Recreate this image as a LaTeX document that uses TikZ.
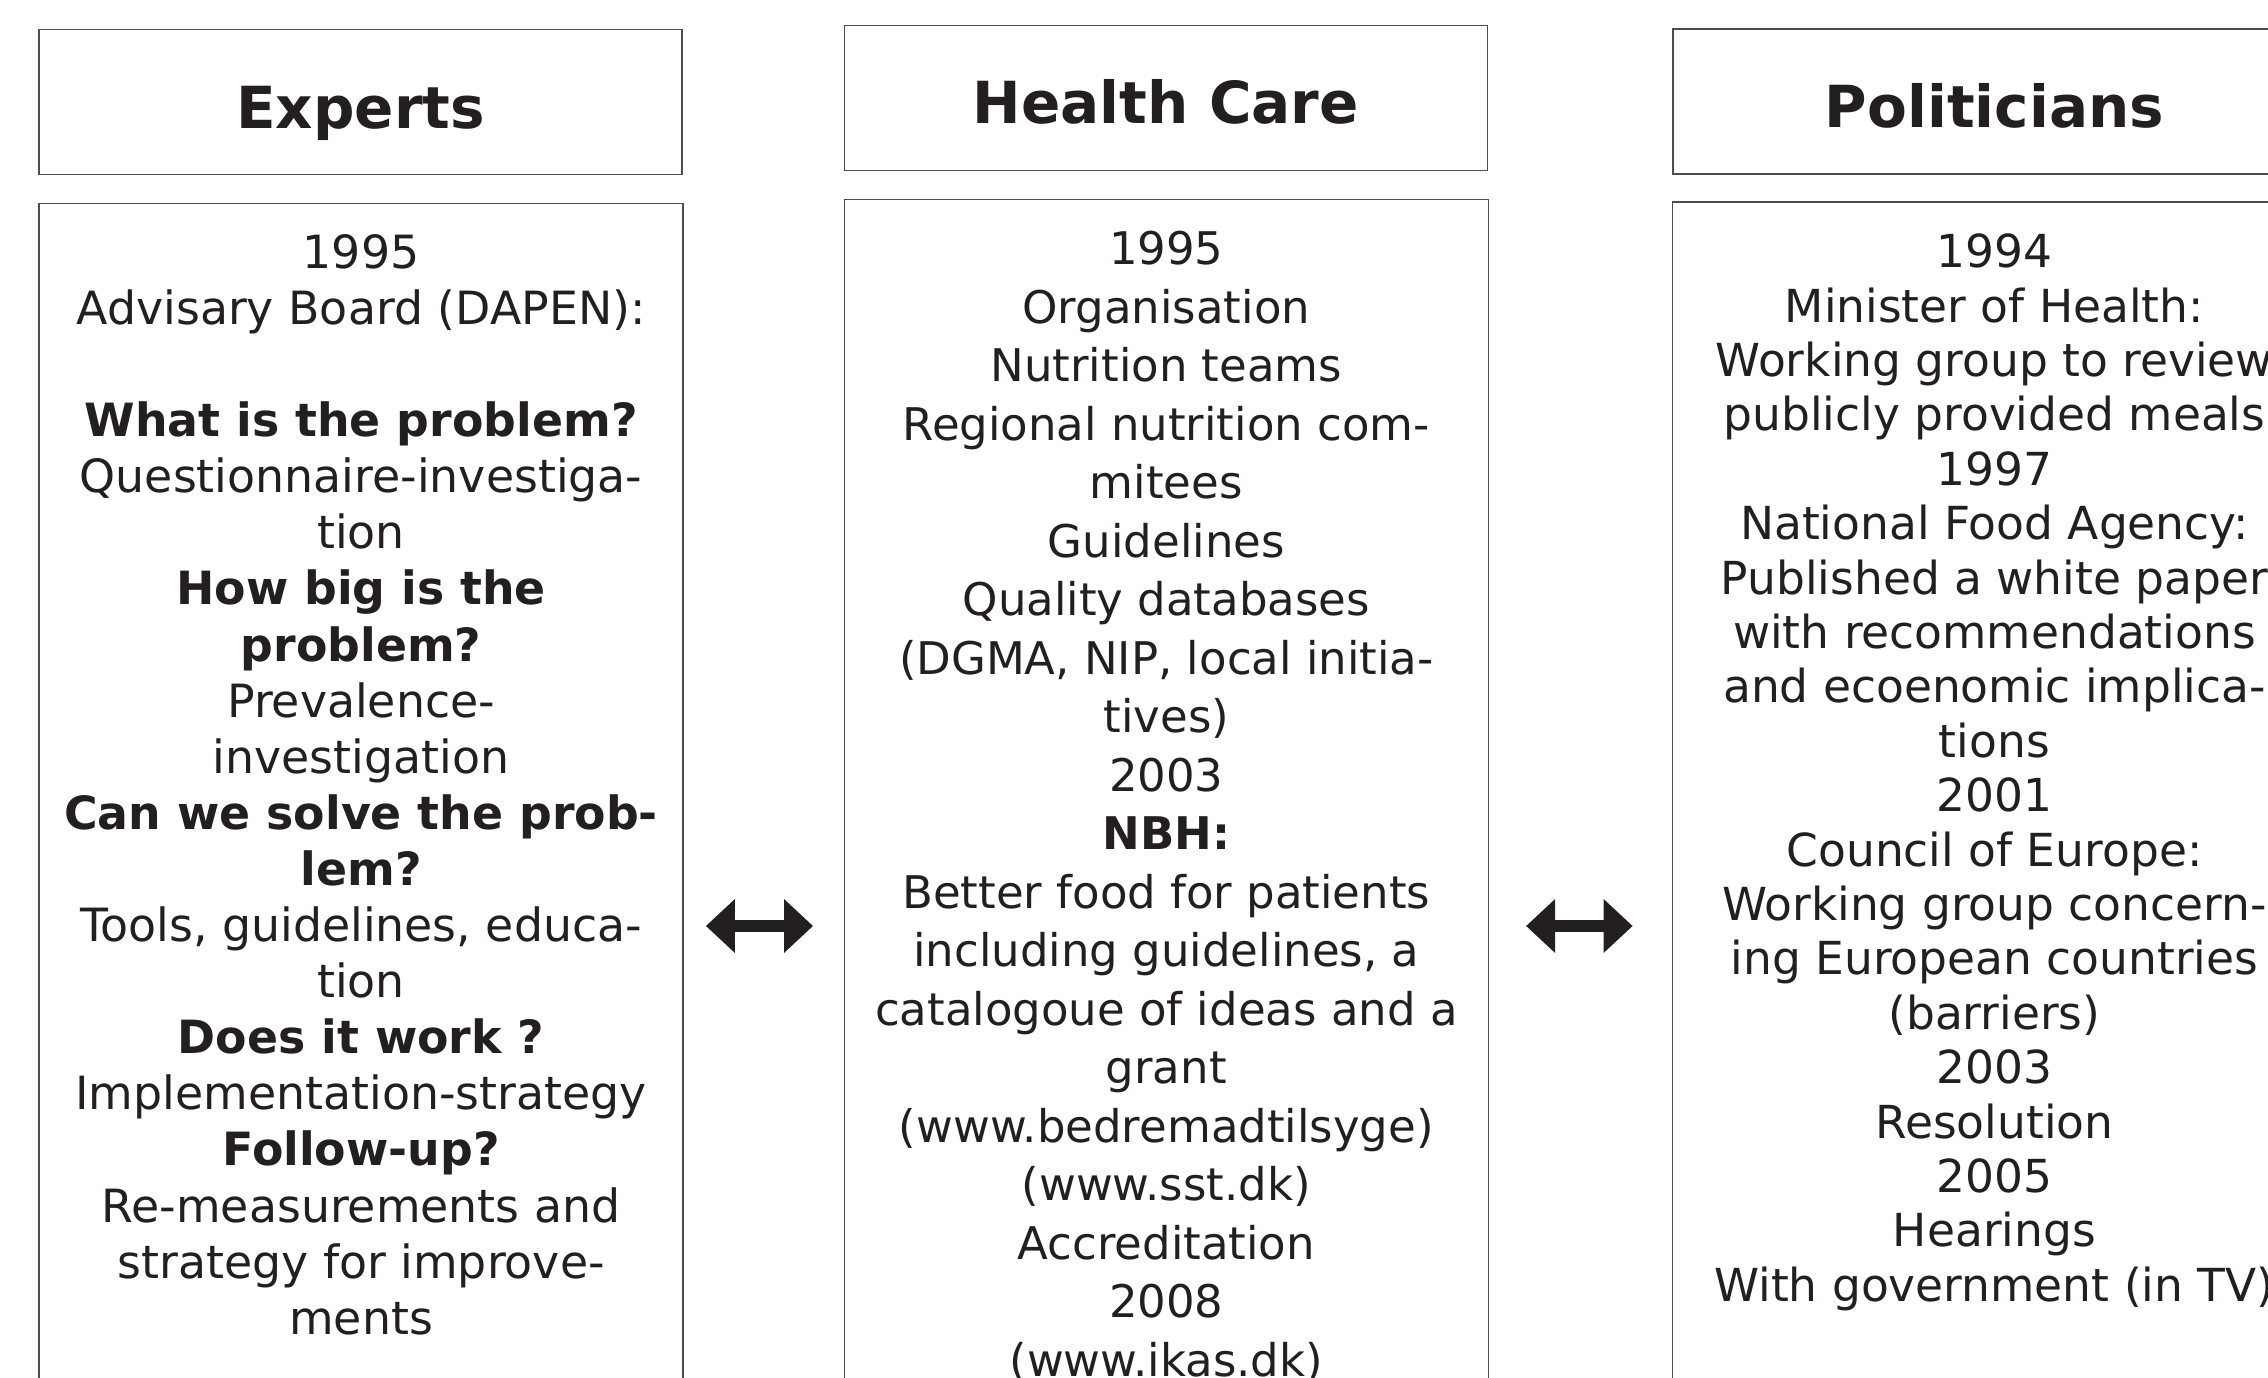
\documentclass[tikz,border=0pt]{standalone}
\usepackage{fontspec}
\setmainfont{DejaVu Sans}
\usetikzlibrary{positioning,arrows.meta}
\definecolor{ink}{HTML}{231F20}
\tikzset{
  headbox/.style={draw=ink!80,line width=1.5pt,minimum width=643pt,minimum height=145pt,inner sep=0pt,
    text=ink,font=\fontsize{58}{68}\selectfont\bfseries,text height=52pt,text depth=0pt},
  bodybox/.style={draw=ink!80,line width=1.5pt,minimum width=644pt,inner sep=0pt},
  bodytext/.style={align=center,inner sep=0pt,text=ink},
  twoway/.style={{Triangle[length=29pt,width=52pt]}-{Triangle[length=29pt,width=52pt]},line width=11.4pt,draw=ink}
}
\begin{document}
\begin{tikzpicture}[x=1pt,y=-1pt]
\useasboundingbox (0,0) rectangle (2268,1378);
\clip (0,0) rectangle (2268,1378);
% headings
\node[headbox] (exphead) at (360.7,102.2) {Experts};
\node[headbox] (hchead) at (1165.8,98) {Health Care};
\node[headbox] (polhead) at (1994.4,101.7) {Politicians};
% bodies (centred on the arrow line, cut off at the bottom)
\node[bodybox,minimum height=1445pt] (expbox) at (361.1,926) {};
\node[bodybox,minimum height=1453pt] (hcbox) at (1166.3,926) {};
\node[bodybox,minimum height=1448pt] (polbox) at (1994.4,926) {};
\node[bodytext,font=\fontsize{45.8}{56.1}\selectfont,below=31.4pt of expbox.north] (exptext) {1995\\
  Advisary Board (DAPEN):\\[56.1pt]
  \textbf{What is the problem?}\\
  Questionnaire-investiga-\\ tion\\
  \textbf{How big is the}\\ \textbf{problem?}\\
  Prevalence-\\ investigation\\
  \textbf{Can we solve the prob-}\\ \textbf{lem?}\\
  Tools, guidelines, educa-\\ tion\\
  \textbf{Does it work ?}\\
  Implementation-strategy\\
  \textbf{Follow-up?}\\
  Re-measurements and\\ strategy for improve-\\ ments};
\node[bodytext,font=\fontsize{45}{58.5}\selectfont,below=32.4pt of hcbox.north] (hctext) {1995\\
  Organisation\\ Nutrition teams\\
  Regional nutrition com-\\ mitees\\
  Guidelines\\ Quality databases\\
  (DGMA, NIP, local initia-\\ tives)\\
  2003\\ \textbf{NBH:}\\
  Better food for patients\\ including guidelines, a\\ catalogoue of ideas and a\\ grant\\
  (www.bedremadtilsyge)\\ (www.sst.dk)\\
  Accreditation\\ 2008\\ (www.ikas.dk)};
\node[bodytext,font=\fontsize{45.5}{54.4}\selectfont,below=32.5pt of polbox.north] (poltext) {1994\\
  Minister of Health:\\ Working group to review\\ publicly provided meals\\
  1997\\ National Food Agency:\\ Published a white paper\\ with recommendations\\
  and ecoenomic implica-\\ tions\\
  2001\\ Council of Europe:\\ Working group concern-\\ ing European countries\\ (barriers)\\
  2003\\ Resolution\\ 2005\\ Hearings\\ With government (in TV)};
% two-way links
\draw[twoway,shorten <=22pt,shorten >=30.5pt] (expbox.east) -- (hcbox.west);
\draw[twoway,shorten <=37pt,shorten >=39pt] (hcbox.east) -- (polbox.west);
\end{tikzpicture}
\end{document}
